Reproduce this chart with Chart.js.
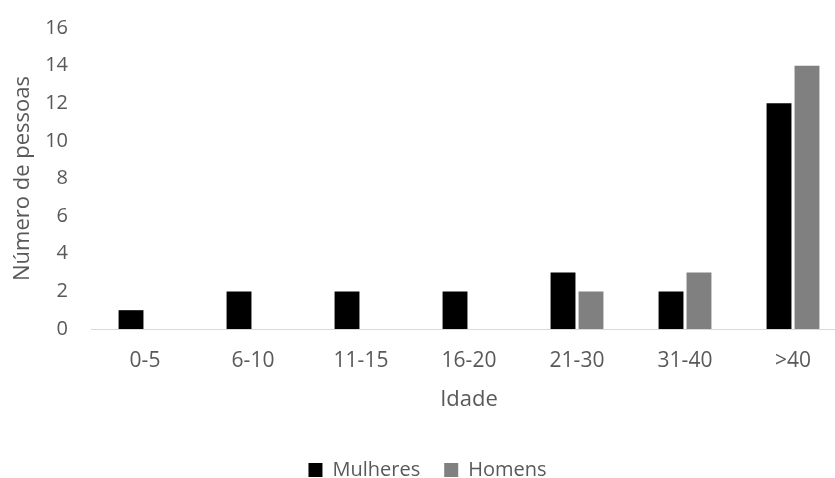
<!DOCTYPE html>
<html><head><meta charset="utf-8">
<script src="https://cdn.jsdelivr.net/npm/chart.js@4/dist/chart.umd.min.js"></script>
<style>html,body{margin:0;padding:0;background:#fff;overflow:hidden;width:835px;height:478px}#w{width:855px;height:497px;margin-top:-7px}</style>
</head><body><div id="w"><canvas id="c"></canvas></div>
<script>
const categories = ['0-5','6-10','11-15','16-20','21-30','31-40','>40'];
const mulheres = [1,2,2,2,3,2,12];
const homens = [0,0,0,0,2,3,14];
const yTicks = [0,2,4,6,8,10,12,14,16];
const font = "'Open Sans', sans-serif";
new Chart(document.getElementById('c'), {
  type: 'bar',
  data: { labels: categories, datasets: [
    {label:'Mulheres', data: mulheres, backgroundColor:'#000000', categoryPercentage:0.518, barPercentage:0.89},
    {label:'Homens', data: homens, backgroundColor:'#808080', categoryPercentage:0.518, barPercentage:0.89}
  ]},
  options: {
    responsive:true, maintainAspectRatio:false, animation:false,
    layout:{padding:{top:9,right:8,left:8,bottom:0}},
    plugins:{
      legend:{position:'bottom', labels:{boxWidth:14, boxHeight:14, color:'#595959', font:{family:font,size:20}, padding:24}},
      tooltip:{enabled:false}
    },
    scales:{
      x:{grid:{display:false, drawTicks:false}, border:{color:'#d9d9d9', width:1},
         afterFit:(s)=>{s.height = 107;},
         ticks:{color:'#595959', font:{family:font,size:21}, padding:19},
         title:{display:true, text:'Idade', color:'#595959', font:{family:font,size:22}, padding:{top:0,bottom:23}}},
      y:{min:0, max:16, afterBuildTicks:(ax)=>{ax.ticks = yTicks.map(v=>({value:v}));},
         afterFit:(s)=>{s.width = 83;},
         grid:{display:false, drawTicks:false}, border:{display:false},
         ticks:{color:'#595959', font:{family:font,size:20}, padding:23},
         title:{display:true, text:'Número de pessoas', color:'#595959', font:{family:font,size:22}, padding:{top:2,bottom:0}}}
    }
  }
});
</script></body></html>
